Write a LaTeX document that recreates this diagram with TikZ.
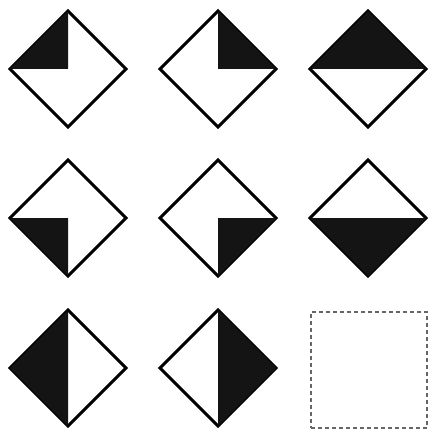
\documentclass[tikz,border=0pt]{standalone}
\usetikzlibrary{shapes.geometric}

\begin{document}
\begin{tikzpicture}[
        x=1pt, y=-1pt,
        tile/.style={draw, diamond, aspect=1, minimum size=116pt, inner sep=0pt, outer sep=0pt, line width=2.9pt},
        ink/.style={fill=black!92},
        blank/.style={draw=black!60, dashed, dash pattern=on 4pt off 3pt, line width=2.6pt, minimum size=116pt, inner sep=0pt}
    ]
    \useasboundingbox (0,0) rectangle (430,433);
    % top row
    \node[tile] (t1) at (68,69) {};
    \node[tile] (t2) at (218,69) {};
    \node[tile] (t3) at (368,69) {};
    % middle row
    \node[tile] (t4) at (68,218) {};
    \node[tile] (t5) at (218,218) {};
    \node[tile] (t6) at (368,218) {};
    % bottom row
    \node[tile] (t7) at (68,368) {};
    \node[tile] (t8) at (218,368) {};
    \node[blank] (q) at (369,370) {};

    \fill[ink] (t1.west) -- (t1.north) -- (t1.center) -- cycle;
    \fill[ink] (t2.north) -- (t2.east) -- (t2.center) -- cycle;
    \fill[ink] (t3.west) -- (t3.north) -- (t3.east) -- cycle;
    \fill[ink] (t4.west) -- (t4.south) -- (t4.center) -- cycle;
    \fill[ink] (t5.south) -- (t5.east) -- (t5.center) -- cycle;
    \fill[ink] (t6.west) -- (t6.south) -- (t6.east) -- cycle;
    \fill[ink] (t7.north) -- (t7.west) -- (t7.south) -- cycle;
    \fill[ink] (t8.north) -- (t8.east) -- (t8.south) -- cycle;
\end{tikzpicture}
\end{document}
